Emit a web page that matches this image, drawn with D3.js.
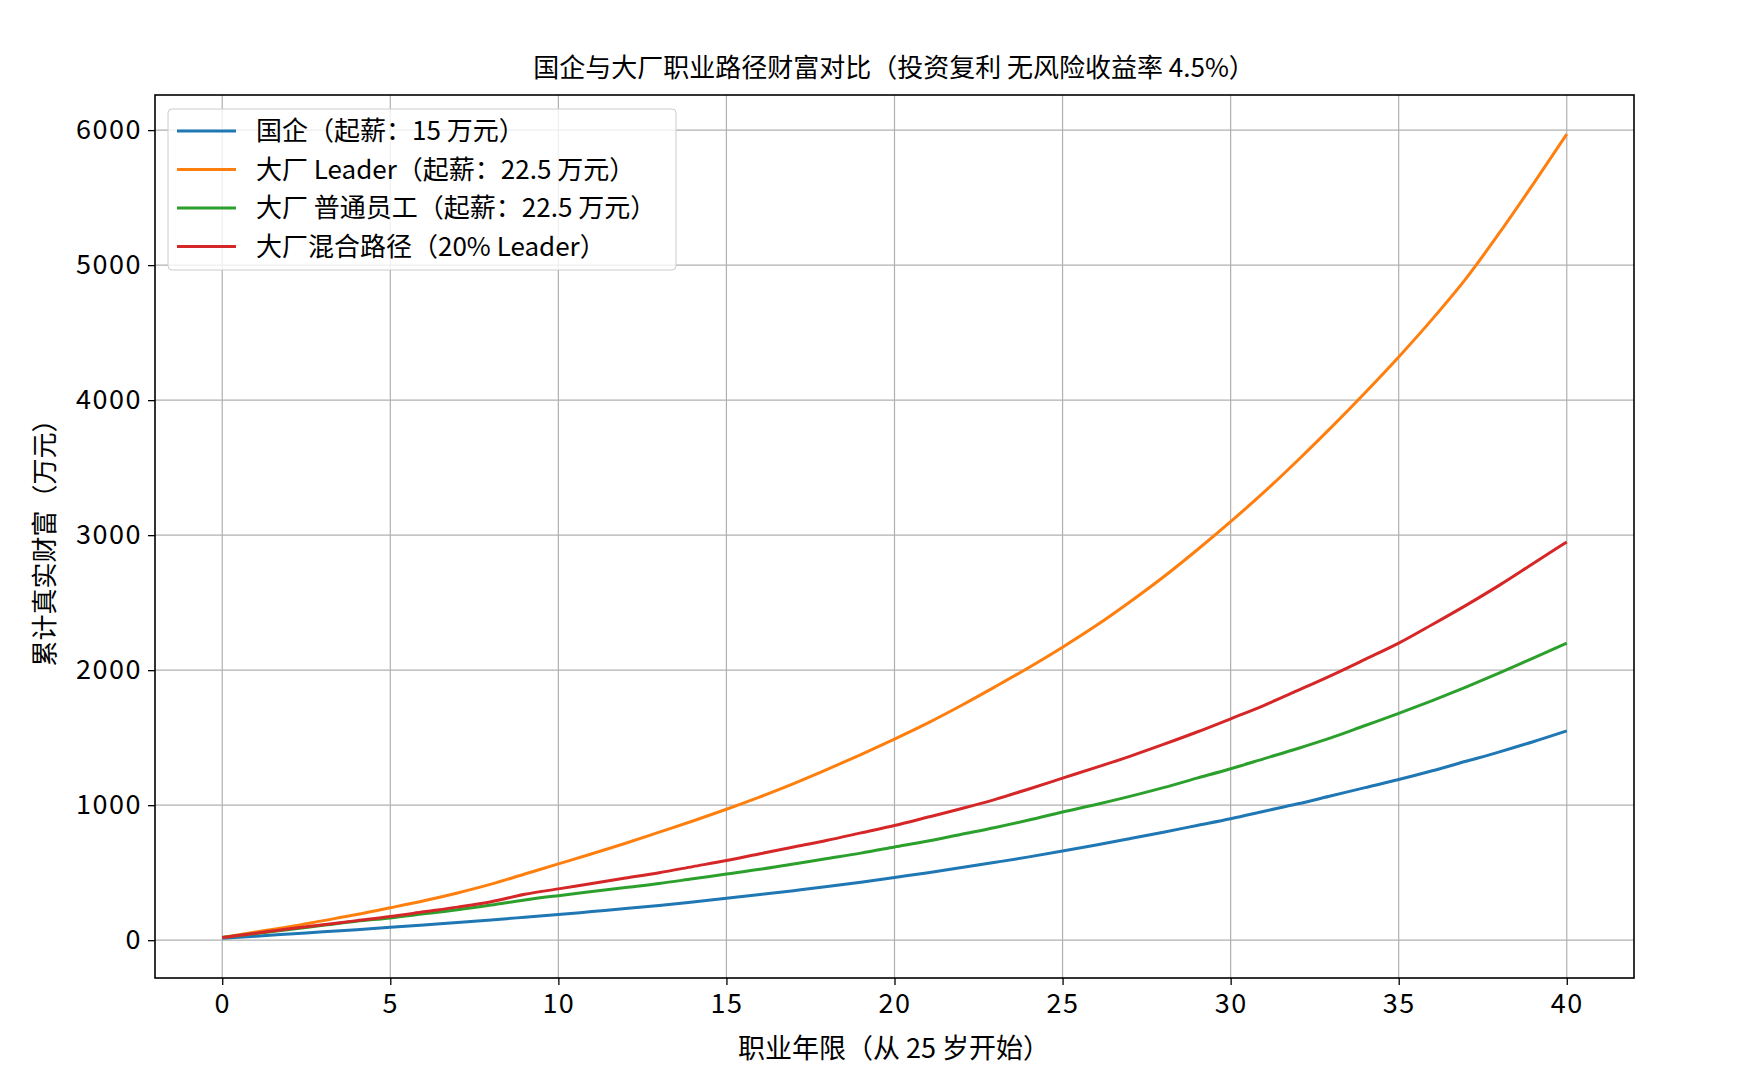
<!DOCTYPE html>
<html><head><meta charset="utf-8">
<script src="https://cdn.jsdelivr.net/npm/d3@7"></script>
<style>body{margin:0;background:#fff}text{font-family:"Noto Sans CJK SC","Noto Sans",sans-serif;fill:#000}</style>
</head><body><svg id="c" width="1752" height="1080"></svg>
<script>
const years = d3.range(0, 41);
const soe = [15,30,46,62,78,95,113,131,150,170,190,212,234,257,283,310,338,367,397,430,465,500,538,577,617,660,705,752,800,850,900,955,1010,1070,1130,1190,1255,1325,1395,1470,1550];
const leader = [20,60,100,145,190,240,292,350,415,490,565,640,718,800,883,970,1062,1160,1265,1375,1490,1610,1740,1878,2020,2170,2330,2505,2690,2890,3100,3320,3555,3800,4055,4320,4600,4900,5240,5600,5970];
const staff = [20,50,80,110,140,165,195,225,260,298,330,360,390,420,455,490,525,565,605,645,690,735,785,835,890,950,1005,1065,1130,1200,1270,1345,1420,1500,1590,1680,1775,1875,1980,2090,2200];
const mixed = [20,52,85,115,145,175,210,245,285,340,380,420,460,500,545,590,640,690,740,795,850,912,975,1043,1120,1200,1280,1362,1450,1542,1640,1740,1850,1962,2080,2200,2338,2480,2630,2790,2950];
const seriesNames = ["国企（起薪：15 万元）","大厂 Leader（起薪：22.5 万元）","大厂 普通员工（起薪：22.5 万元）","大厂混合路径（20% Leader）"];
const colors = ["#1f77b4","#ff7f0e","#2ca02c","#d62728"];
const xTicks = [0,5,10,15,20,25,30,35,40];
const yTicks = [0,1000,2000,3000,4000,5000,6000];
const series = [soe, leader, staff, mixed];

const L=155,R=1634,T=95,B=978;
const svg=d3.select("#c");
const x=d3.scaleLinear().domain([-2,42]).range([L,R]);
const y=d3.scaleLinear().domain([-280,6260]).range([B,T]);
svg.append("g").selectAll("line").data(xTicks).join("line")
 .attr("x1",d=>x(d)).attr("x2",d=>x(d)).attr("y1",T).attr("y2",B).attr("stroke","#b0b0b0").attr("stroke-width",1.2);
svg.append("g").selectAll("line").data(yTicks).join("line")
 .attr("x1",L).attr("x2",R).attr("y1",d=>y(d)).attr("y2",d=>y(d)).attr("stroke","#b0b0b0").attr("stroke-width",1.2);
const line=d3.line().curve(d3.curveMonotoneX).x((d,i)=>x(years[i])).y(d=>y(d));
series.forEach((s,i)=>svg.append("path").attr("d",line(s)).attr("fill","none").attr("stroke",colors[i]).attr("stroke-width",3));
const xa=svg.append("g").attr("transform",`translate(0,${B})`).call(d3.axisBottom(x).tickValues(xTicks).tickSize(7).tickPadding(9));
const ya=svg.append("g").attr("transform",`translate(${L},0)`).call(d3.axisLeft(y).tickValues(yTicks).tickSize(7).tickPadding(6).tickFormat(d3.format("d")));
[xa,ya].forEach(a=>{a.select(".domain").remove();a.selectAll("text").attr("font-size",27).attr("letter-spacing",1.5).style("font-family","'Noto Sans CJK SC'");a.selectAll("line").attr("stroke","#000").attr("stroke-width",1.3);});
svg.append("rect").attr("x",L).attr("y",T).attr("width",R-L).attr("height",B-T).attr("fill","none").attr("stroke","#000").attr("stroke-width",1.6);
const lg=svg.append("g");
lg.append("rect").attr("x",168).attr("y",109).attr("width",508).attr("height",161).attr("rx",4).attr("fill","#fff").attr("fill-opacity",0.8).attr("stroke","#ccc");
seriesNames.forEach((n,i)=>{const yy=131+i*38.5;
 lg.append("line").attr("x1",177).attr("x2",236).attr("y1",yy).attr("y2",yy).attr("stroke",colors[i]).attr("stroke-width",3);
 lg.append("text").attr("x",256).attr("y",yy).attr("dy","0.35em").attr("font-size",26).text(n);});
svg.append("text").attr("x",894).attr("y",70).attr("text-anchor","middle").attr("dominant-baseline","middle").attr("font-size",26).text("国企与大厂职业路径财富对比（投资复利 无风险收益率 4.5%）");
svg.append("text").attr("x",894).attr("y",1051).attr("text-anchor","middle").attr("dominant-baseline","middle").attr("font-size",27).text("职业年限（从 25 岁开始）");
svg.append("text").attr("transform",`translate(47,${(T+B)/2}) rotate(-90)`).attr("text-anchor","middle").attr("dominant-baseline","middle").attr("font-size",26).text("累计真实财富（万元）");
</script></body></html>
